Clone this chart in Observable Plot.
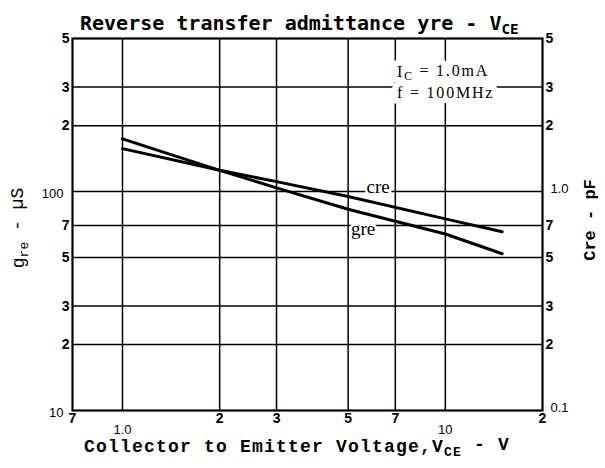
<!DOCTYPE html>
<html>
<head>
<meta charset="utf-8">
<script src="https://cdn.jsdelivr.net/npm/d3@7"></script>
<script src="https://cdn.jsdelivr.net/npm/@observablehq/plot@0.6"></script>
<style>
  html, body { margin: 0; padding: 0; background: white; }
  #chart svg { display: block; }
</style>
</head>
<body>
<div id="chart"></div>
<script>
// ---- data ----
const xTicks = [0.7, 1, 2, 3, 5, 7, 10, 20];
const xTickLabels = ["7", "1.0", "2", "3", "5", "7", "10", "2"];
const yTicks = [10, 20, 30, 50, 70, 100, 200, 300, 500];
const yLeftLabels = ["10", "2", "3", "5", "7", "100", "2", "3", "5"];
const yRightLabels = ["0.1", "2", "3", "5", "7", "1.0", "2", "3", "5"];
const gridX = [1, 2, 3, 5, 7, 10];
const gridY = [20, 30, 50, 70, 100, 200, 300];
const vce = [1, 2, 3, 5, 10, 15];                 // V
const gre = [174, 125, 104, 83, 64, 52];          // µS
const cre = [1.57, 1.25, 1.11, 0.95, 0.75, 0.655]; // pF (right axis: 1 pF = 100 on left)

// ---- tables built from the arrays ----
const rows = [];
vce.forEach((v, i) => {
  rows.push({series: "gre", vce: v, value: gre[i]});
  rows.push({series: "cre", vce: v, value: cre[i] * 100});
});
const xt = xTicks.map((v, i) => ({v, t: xTickLabels[i]}));
const ytL = yTicks.map((v, i) => ({v, t: yLeftLabels[i]}));
const ytR = yTicks.map((v, i) => ({v, t: yRightLabels[i]}));
const single = d => d.t.length === 1;
const multi = d => d.t.length > 1;

const tickFont = "Liberation Sans";
const svg = Plot.plot({
  width: 605,
  height: 468,
  marginLeft: 72,
  marginRight: 63,
  marginTop: 38,
  marginBottom: 58,
  x: {type: "log", domain: [0.7, 20], axis: null},
  y: {type: "log", domain: [10, 500], axis: null},
  style: {background: "white", color: "black", fontFamily: tickFont},
  marks: [
    Plot.ruleX(gridX, {stroke: "black", strokeWidth: 1.5}),
    Plot.ruleY(gridY, {stroke: "black", strokeWidth: 1.5}),
    Plot.frame({stroke: "black", strokeWidth: 2.2}),
    Plot.line(rows, {x: "vce", y: "value", z: "series", stroke: "black", strokeWidth: 3}),
    // curve labels, anchored on the 5 V point of each series
    Plot.text(rows.filter(d => d.series === "cre" && d.vce === 5), {
      x: "vce", y: "value", text: "series", dx: 30, dy: -10,
      fontFamily: "Liberation Serif", fontSize: 19, stroke: "white", strokeWidth: 5, fill: "black",
      letterSpacing: 1.5
    }),
    Plot.text(rows.filter(d => d.series === "gre" && d.vce === 5), {
      x: "vce", y: "value", text: "series", dx: 15, dy: 20,
      fontFamily: "Liberation Serif", fontSize: 19, stroke: "white", strokeWidth: 5, fill: "black",
      letterSpacing: 1.5
    }),
    // x tick labels
    Plot.text(xt.filter(single), {x: "v", text: "t", frameAnchor: "bottom", lineAnchor: "top", dy: 3,
      fontSize: 14, fontWeight: "bold"}),
    Plot.text(xt.filter(multi), {x: "v", text: "t", frameAnchor: "bottom", lineAnchor: "top", dy: 14,
      fontSize: 13}),
    // left tick labels
    Plot.text(ytL.filter(single), {y: "v", text: "t", frameAnchor: "left", textAnchor: "end", dx: -3,
      fontSize: 14, fontWeight: "bold"}),
    Plot.text(ytL.filter(multi), {y: "v", text: "t", frameAnchor: "left", textAnchor: "end", dx: -9, dy: 2,
      fontSize: 13}),
    // right tick labels
    Plot.text(ytR.filter(single), {y: "v", text: "t", frameAnchor: "right", textAnchor: "start", dx: 3,
      fontSize: 14, fontWeight: "bold"}),
    Plot.text(ytR.filter(multi), {y: "v", text: "t", frameAnchor: "right", textAnchor: "start", dx: 8, dy: -3,
      fontSize: 13})
  ]
});
document.getElementById("chart").appendChild(svg);

// ---- titles and annotation (text with subscripts) ----
const root = d3.select(svg);
function rich(parent, parts, attrs) {
  const t = parent.append("text").attr("text-anchor", "start");
  Object.entries(attrs).forEach(([k, v]) => t.attr(k, v));
  let shifted = false;
  parts.forEach(([s, sub]) => {
    const ts = t.append("tspan").text(s);
    if (sub && !shifted) { ts.attr("dy", "0.3em").attr("font-size", "0.72em"); shifted = true; }
    else if (!sub && shifted) { ts.attr("dy", "-0.3em"); shifted = false; }
    else if (sub) ts.attr("font-size", "0.72em");
  });
  return t;
}

// main title
rich(root, [["Reverse transfer admittance yre - V"], ["CE", true]], {
  x: 80, y: 30, "font-family": "DejaVu Sans Mono", "font-weight": "bold", "font-size": 20, fill: "black"
});

// x axis title
rich(root, [["Collector to Emitter Voltage,V"], ["CE", true], [" - V"]], {
  x: 84, y: 452, "font-family": "Liberation Mono", "font-weight": "bold", "font-size": 18, fill: "black",
  "letter-spacing": 1.2
});

// left y title (rotated)
const gl = root.append("g").attr("transform", "translate(24,228) rotate(-90)");
rich(gl, [["g"], ["re", true], [" - µS"]], {
  x: 0, y: 0, "text-anchor": "middle", "font-family": "Liberation Mono", "font-size": 18, fill: "black"
});

// right y title (rotated)
const gr = root.append("g").attr("transform", "translate(595,220) rotate(-90)");
rich(gr, [["Cre - pF"]], {
  x: 0, y: 0, "text-anchor": "middle", "font-family": "Liberation Mono", "font-weight": "bold",
  "font-size": 17, fill: "black"
});

// conditions annotation: halos first, then the text, so one line's halo never hides the other
const annFont = {"font-family": "Liberation Serif", "font-size": 16, "letter-spacing": 1.8};
const ann = [
  {parts: [["I"], ["C", true], [" = 1.0mA"]], x: 397, y: 77},
  {parts: [["f = 100MHz"]], x: 397, y: 98}
];
ann.forEach(a => rich(root, a.parts, Object.assign({x: a.x, y: a.y, fill: "white", stroke: "white",
  "stroke-width": 12, "stroke-linejoin": "round"}, annFont)));
ann.forEach(a => rich(root, a.parts, Object.assign({x: a.x, y: a.y, fill: "black"}, annFont)));
</script>
</body>
</html>
